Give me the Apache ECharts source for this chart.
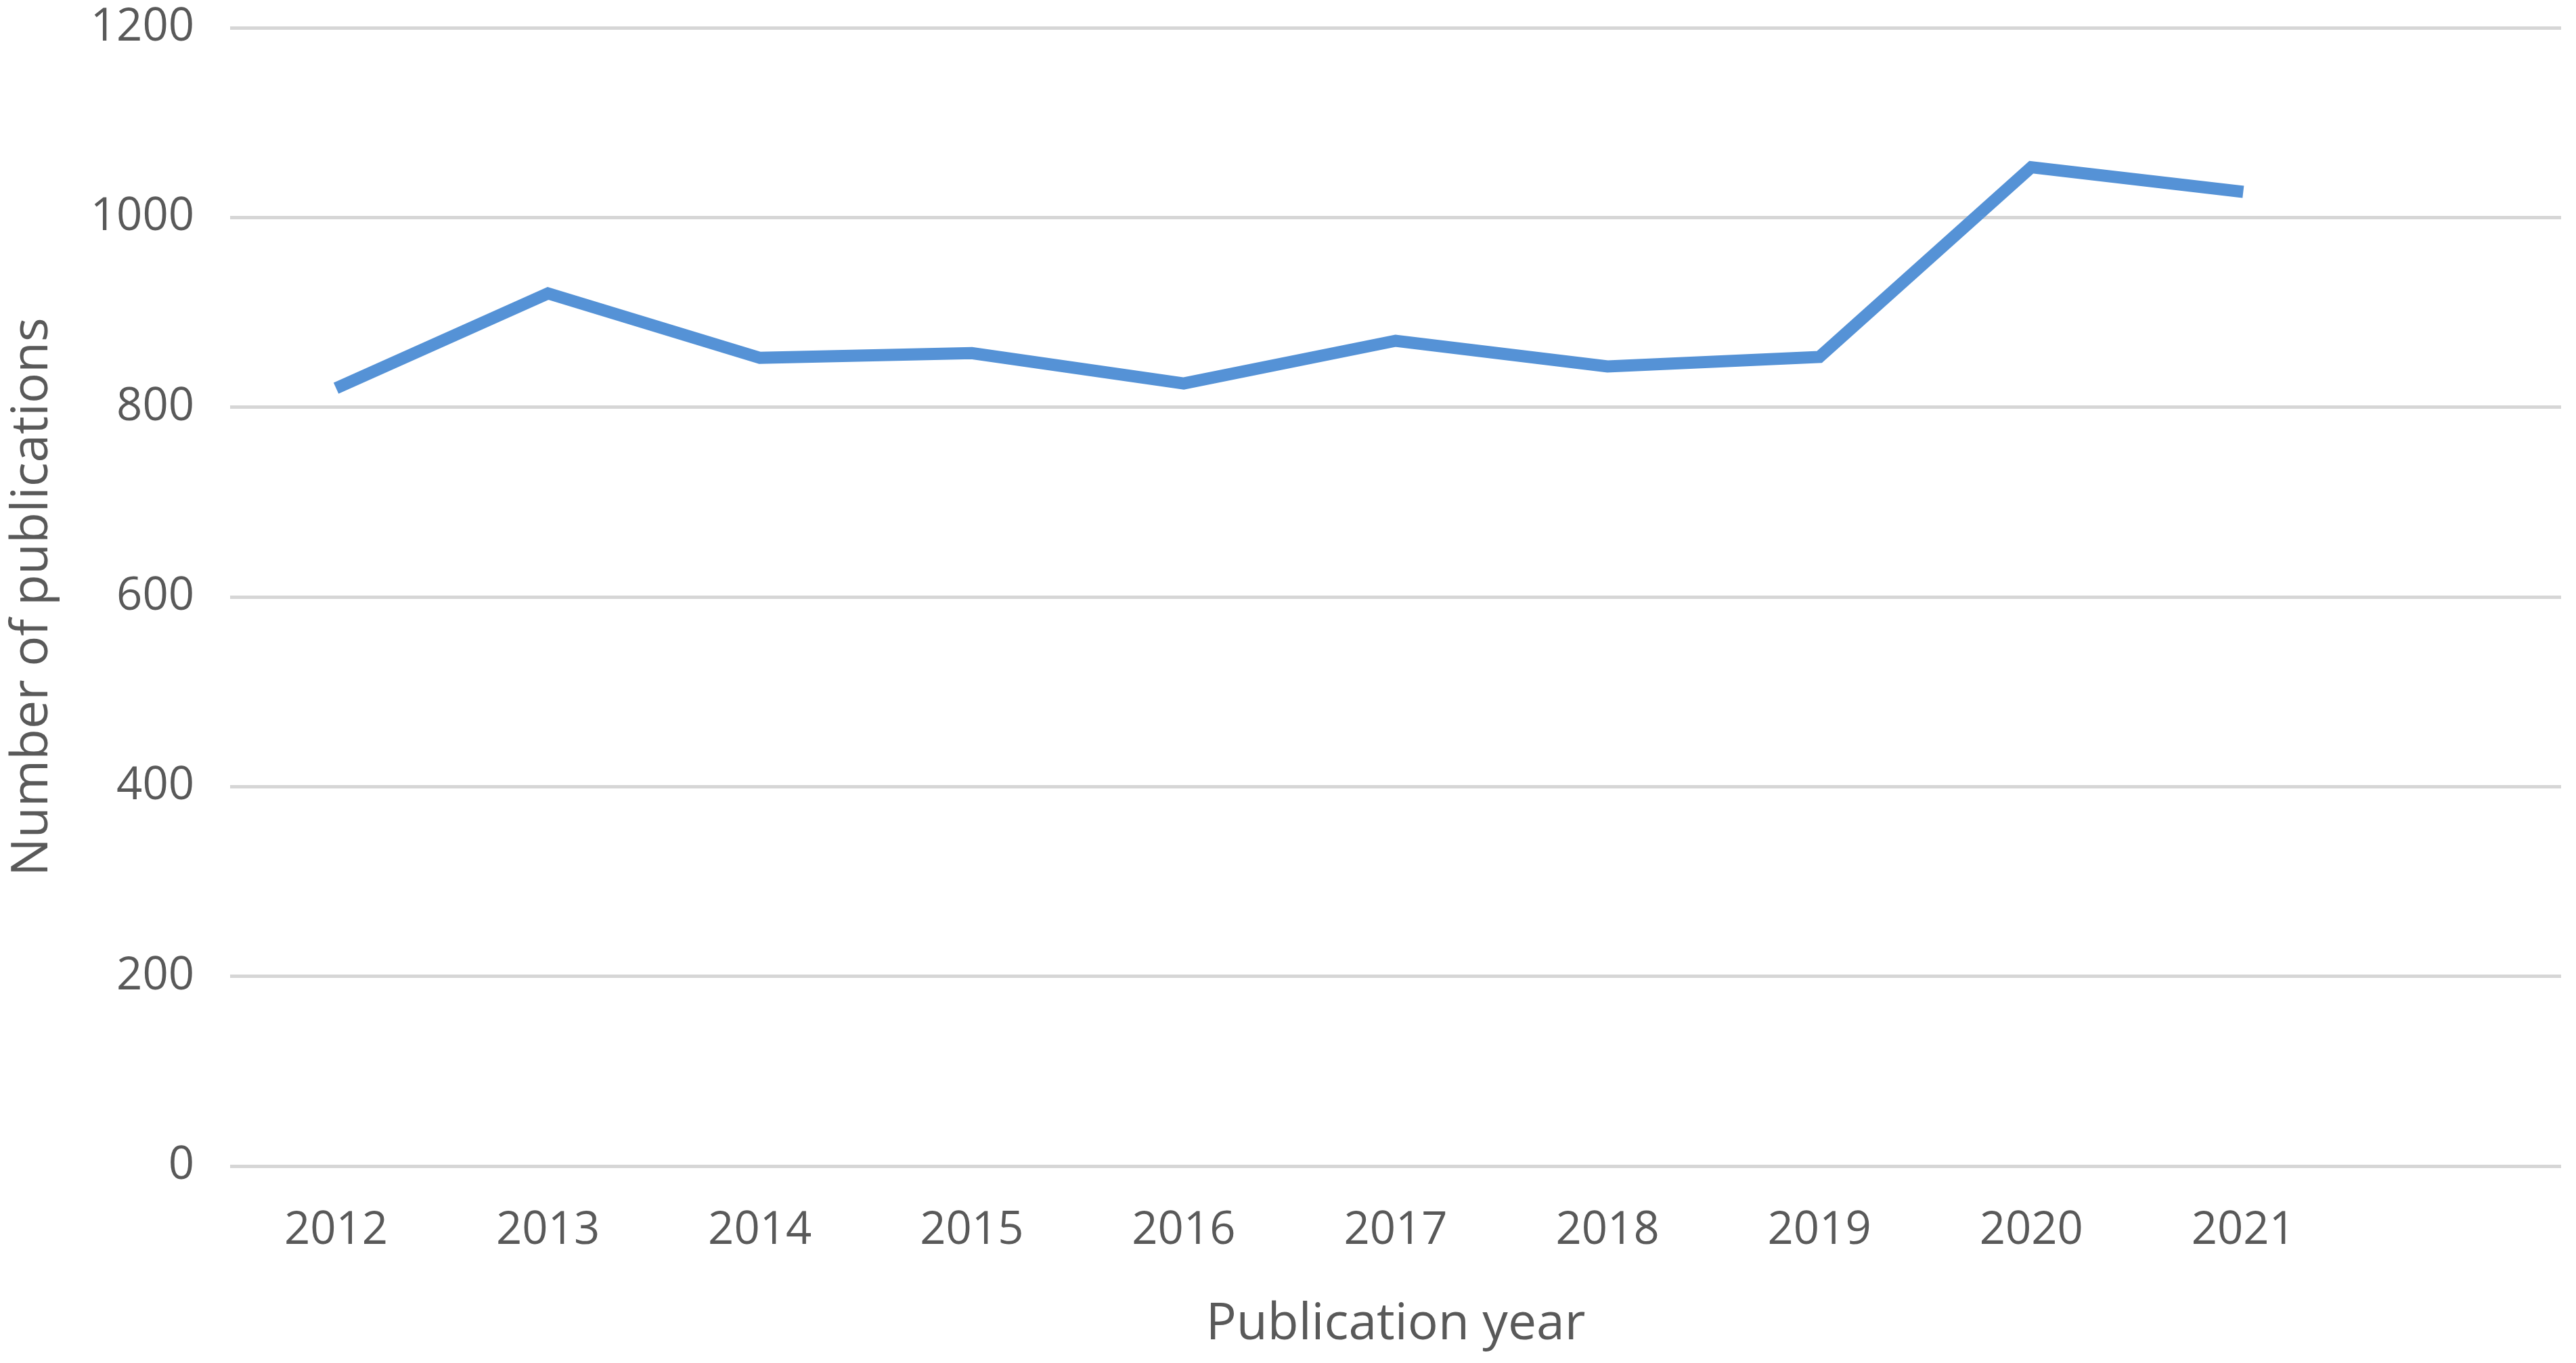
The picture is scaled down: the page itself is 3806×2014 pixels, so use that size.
<!DOCTYPE html>
<html>
<head>
<meta charset="utf-8">
<style>
  html, body { margin: 0; padding: 0; background: #ffffff; }
  #chart { width: 3806px; height: 2014px; }
</style>
<script src="https://cdn.jsdelivr.net/npm/echarts@6/dist/echarts.min.js"></script>
</head>
<body>
<div id="chart"></div>
<script>
const categories = ['2012', '2013', '2014', '2015', '2016', '2017', '2018', '2019', '2020', '2021', ''];
const publications = [820, 920, 852, 857, 825, 870, 843, 853, 1053, 1027, null];
const yTicks = { min: 0, max: 1200, interval: 200 };
const xTitle = 'Publication year';
const yTitle = 'Number of publications';

const textColor = '#595959';
const fontFamily = '"Open Sans", "Noto Sans", sans-serif';

const chart = echarts.init(document.getElementById('chart'), null, { renderer: 'canvas' });
chart.setOption({
  backgroundColor: '#ffffff',
  animation: false,
  grid: { left: 340, right: 22, top: 41, bottom: 291, containLabel: false },
  xAxis: {
    type: 'category',
    data: categories,
    boundaryGap: true,
    axisLine: { show: false },
    axisTick: { show: false },
    axisLabel: { color: textColor, fontSize: 67, fontFamily: fontFamily, margin: 62, interval: 0 },
    name: xTitle,
    nameLocation: 'middle',
    nameGap: 197,
    nameTextStyle: { color: textColor, fontSize: 75, fontFamily: fontFamily }
  },
  yAxis: {
    type: 'value',
    min: yTicks.min,
    max: yTicks.max,
    interval: yTicks.interval,
    axisLine: { show: false },
    axisTick: { show: false },
    axisLabel: { color: textColor, fontSize: 67, fontFamily: fontFamily, margin: 53, formatter: function (v) { return String(v); } },
    splitLine: { show: true, lineStyle: { color: '#d6d6d6', width: 5 } },
    name: yTitle,
    nameLocation: 'middle',
    nameGap: 254,
    nameRotate: 90,
    nameTextStyle: { color: textColor, fontSize: 75, fontFamily: fontFamily }
  },
  series: [{
    type: 'line',
    data: publications,
    showSymbol: false,
    symbol: 'none',
    lineStyle: { color: '#5592d6', width: 18, cap: 'butt', join: 'miter' },
    itemStyle: { color: '#5592d6' }
  }]
});
</script>
</body>
</html>
